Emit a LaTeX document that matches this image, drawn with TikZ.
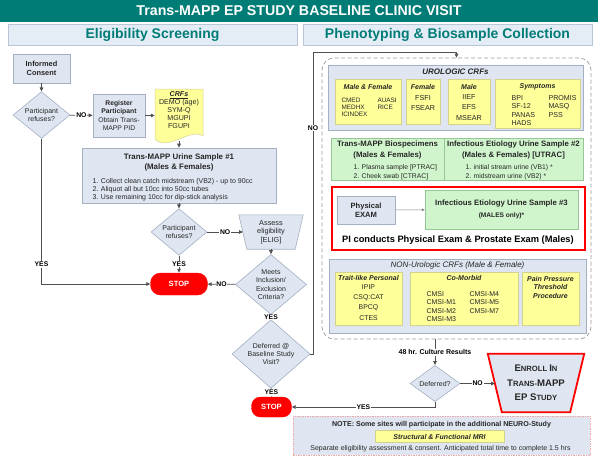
\documentclass[tikz,border=0pt]{standalone}
\usepackage{fontspec}
\setmainfont{Liberation Sans}
\usetikzlibrary{shapes.geometric,arrows.meta,calc,backgrounds}
\definecolor{teal0}{HTML}{007C76}
\definecolor{hdrfill}{HTML}{E4ECF6}
\definecolor{hdrdraw}{HTML}{B8C6D8}
\definecolor{lbfill}{HTML}{DFE6F1}
\definecolor{lbdraw}{HTML}{A3AFC2}
\definecolor{yel}{HTML}{FFFF99}
\definecolor{yeldraw}{HTML}{D2D28E}
\definecolor{grn}{HTML}{D0F5CC}
\definecolor{grndraw}{HTML}{98C596}
\definecolor{txt}{HTML}{262626}
\definecolor{ln}{HTML}{505050}
\definecolor{stopred}{HTML}{FF0000}
\definecolor{notedraw}{HTML}{F0A8A8}
\newcommand\fsz[2]{\fontsize{#1}{#2}\selectfont}
\begin{document}
\begin{tikzpicture}[x=1pt,y=-1pt,
  every node/.style={text=txt},
  bx/.style n args={2}{minimum width=#1pt,minimum height=#2pt,inner sep=0pt},
  hdr/.style={draw=hdrdraw,fill=hdrfill,line width=0.6pt,text=teal0,font=\fsz{14}{16}\bfseries},
  lbox/.style={draw=lbdraw,fill=lbfill,line width=0.6pt,align=center},
  ybox/.style={draw=yeldraw,fill=yel,line width=0.5pt},
  gbox/.style={draw=grndraw,fill=grn,line width=0.5pt},
  dia/.style={diamond,draw=lbdraw,fill=lbfill,line width=0.6pt,inner sep=0pt,align=center,font=\fsz{7}{8.4}},
  stopbox/.style={fill=stopred,text=white,font=\fsz{7.6}{8}\bfseries,inner sep=0pt},
  arr/.style={draw=ln,line width=0.8pt,-{Triangle[length=4pt,width=3.6pt]}},
  lab/.style={fill=white,inner sep=0.8pt,font=\fsz{6.8}{7}\bfseries,text=black},
  sm/.style={font=\fsz{6.3}{7.6},align=left},
  ttl/.style={font=\fsz{7}{8}\bfseries\itshape}
]
\useasboundingbox (0,0) rectangle (600,456);

% title bar
\node[fill=teal0,bx={598}{22},text=white,font=\fsz{14.2}{16}\bfseries] (title) at (299,11) {Trans-MAPP EP STUDY BASELINE CLINIC VISIT};
\node[hdr,bx={289}{21}] (h1) at (152.5,34.5) {Eligibility Screening};
\node[hdr,bx={289}{21}] (h2) at (447.5,34.5) {Phenotyping \& Biosample Collection};

% ---------- left column ----------
\node[lbox,bx={57}{29},font=\fsz{7.4}{9.2}\bfseries] (consent) at (41.5,68.5) {Informed\\Consent};
\node[dia,bx={57}{42}] (d1) at (41.5,115) {Participant\\refuses?};
\node[lbox,bx={52}{43},font=\fsz{6.8}{8}] (reg) at (119,115.5) {\textbf{Register}\\\textbf{Participant}\\[1.5pt]Obtain Trans-\\MAPP PID};
\node[bx={48}{50}] (crf) at (179,113) {};
\draw[ybox] (155,89) -- (203,89) -- (203,136) .. controls (191,127) and (168,152) .. (155,139) -- cycle;
\node[font=\fsz{7.1}{8},align=center] (crft) at (179,110.5) {\textbf{\textit{\underline{CRFs}}}\\DEMO (age)\\SYM-Q\\MGUPI\\FGUPI};
\coordinate (crfb) at (179,141);

\node[lbox,bx={194}{55}] (urine) at (179,175.5) {};
\node[font=\fsz{7.9}{10.8}\bfseries,align=center] (urinet) at (179,162.5) {Trans-MAPP Urine Sample \#1\\(Males \& Females)};
\node[sm,anchor=north west,font=\fsz{7}{8.2}] (urinei) at (89,174.5) {1. Collect clean catch midstream (VB2) - up to 90cc\\2. Aliquot all but 10cc into 50cc tubes\\3. Use remaining 10cc for dip-stick analysis};

\node[dia,bx={56}{43}] (d2) at (179,232) {Participant\\refuses?};
\node[bx={64}{34},align=center,font=\fsz{7.3}{8.4}] (assess) at (271,232) {Assess\\eligibility\\{[ELIG]}};
\begin{scope}[on background layer]
\draw[lbox] (assess.north west) -- (assess.north east) -- ([xshift=-8pt]assess.south east) -- ([xshift=8pt]assess.south west) -- cycle;
\end{scope}
\coordinate (assessw) at (243,232);
\node[dia,bx={71}{51}] (d3) at (271,284.5) {Meets\\Inclusion/\\Exclusion\\Criteria?};
\node[stopbox,bx={57}{22},rounded corners=10pt,draw=stopred] (stop1) at (179,284) {STOP};
\node[dia,bx={78}{44}] (d4) at (271,354) {Deferred @\\Baseline Study\\Visit?};
\node[stopbox,bx={40}{20},rounded corners=9pt,draw=stopred] (stop2) at (271.5,407) {STOP};

% left connectors
\draw[arr] (consent) -- (d1);
\draw[arr] (d1) -- node[lab]{NO} (reg);
\draw[arr] (reg) -- (reg.east -| crf.west);
\draw[arr] (crfb) -- (urine.north -| crfb);
\draw[arr] (urine.south -| d2.north) -- (d2);
\draw[arr] (d1.south) -- node[lab,pos=0.865]{YES} (d1.south |- stop1.west) -- (stop1.west);
\draw[arr] (d2) -- node[lab]{NO} (assessw);
\draw[arr] (d2) -- node[lab]{YES} (stop1);
\draw[arr] (assess.south) -- (d3.north);
\draw[arr] (d3) -- node[lab]{NO} (stop1);
\draw[arr] (d3) -- node[lab]{YES} (d4);
\draw[arr] (d4) -- node[lab]{YES} (stop2);

% ---------- right column ----------
\node[draw=gray!80,dash pattern=on 4pt off 2.5pt,line width=0.7pt,rounded corners=12pt,bx={269}{281}] (pheno) at (456.5,198.5) {};
\coordinate (n1) at (313,354);
\coordinate (n2) at (313,52);
\coordinate (n3) at (456.5,52);
\draw[arr] (d4.east) -- (n1) -- node[lab,pos=0.748]{NO} (n2) -- (n3) -- (pheno.north);

% urologic
\node[lbox,bx={255}{65}] (uro) at (455.5,97.5) {};
\node[font=\fsz{8}{9}\bfseries\itshape] (urot) at (455.5,72) {UROLOGIC CRFs};
\node[ybox,bx={66}{45}] (mf) at (368,101.5) {};
\node[ttl] at (368,87) {Male \& Female};
\node[sm,anchor=north west,font=\fsz{6.4}{7.2}] at (338,94.5) {CMED\\MEDHX\\ICINDEX};
\node[sm,anchor=north west,font=\fsz{6.4}{7.2}] at (374,94.5) {AUASI\\RICE};
\node[ybox,bx={34}{45}] (fem) at (423,101.5) {};
\node[ttl] at (423,87) {Female};
\node[font=\fsz{7.2}{10},align=center] at (423,103) {FSFI\\FSEAR};
\node[ybox,bx={42}{45}] (male) at (469,101.5) {};
\node[ttl] at (469,87) {Male};
\node[font=\fsz{7.2}{10.5},align=center] at (469,107.5) {IIEF\\EFS\\MSEAR};
\node[ybox,bx={85}{49}] (sym) at (537.5,103.5) {};
\node[ttl] at (537.5,87) {Symptoms};
\node[sm,anchor=north west,font=\fsz{7.1}{8.3}] at (508,92) {BPI\\SF-12\\PANAS\\HADS};
\node[sm,anchor=north west,font=\fsz{7.1}{8.3}] at (545,92) {PROMIS\\MASQ\\PSS};

% green row
\node[gbox,bx={113}{42}] (bio) at (387.5,159) {};
\node[gbox,bx={139}{42}] (ie2) at (513.5,159) {};
\node[font=\fsz{7.8}{11}\bfseries,align=center] at (387.5,149.5) {Trans-MAPP Biospecimens\\(Males \& Females)};
\node[sm,anchor=north west,font=\fsz{6.8}{9}] at (350,161) {1. Plasma sample [PTRAC]\\2. Cheek swab [CTRAC]};
\node[font=\fsz{7.8}{11}\bfseries,align=center] at (513.5,149.5) {Infectious Etiology Urine Sample \#2\\(Males \& Females) [UTRAC]};
\node[sm,anchor=north west,font=\fsz{6.8}{9}] at (462,161) {1. initial stream urine (VB1) *\\2. midstream urine (VB2) *};

% red box
\node[draw=stopred,fill=white,line width=2pt,bx={253}{63}] (exam) at (458,218) {};
\node[lbox,bx={58}{28},font=\fsz{7.6}{9.4}\bfseries] (phys) at (366,210) {Physical\\EXAM};
\node[gbox,bx={153}{39},align=center] (ie3) at (501.5,209.5) {{\fsz{7.8}{9}\bfseries Infectious Etiology Urine Sample \#3}\\{\fsz{6.6}{9.5}\bfseries (MALES only)*}};
\draw[draw=gray,line width=0.5pt,-{Triangle[length=3pt,width=2.6pt]}] (phys) -- (ie3);
\node[font=\fsz{9.3}{10}\bfseries,text=black] (pi) at (458,240) {PI conducts Physical Exam \& Prostate Exam (Males)};

% non-urologic
\node[lbox,bx={257}{74}] (nonuro) at (457.5,296) {};
\node[font=\fsz{8}{9}\itshape] at (457.5,265) {NON-Urologic CRFs (Male \& Female)};
\node[ybox,bx={67}{53}] (trait) at (368.5,298.5) {};
\node[ttl] at (368.5,278) {Trait-like Personal};
\node[font=\fsz{6.9}{10.3},align=center] at (368.5,302.5) {IPIP\\CSQ:CAT\\BPCQ\\CTES};
\node[ybox,bx={108}{53}] (como) at (464,298.5) {};
\node[ttl] at (464,278) {Co-Morbid};
\node[sm,anchor=north west,font=\fsz{7}{8.3}] at (423,288) {CMSI\\CMSI-M1\\CMSI-M2\\CMSI-M3};
\node[sm,anchor=north west,font=\fsz{7}{8.3}] at (466,288) {CMSI-M4\\CMSI-M5\\CMSI-M7};
\node[ybox,bx={57}{53}] (pain) at (550.5,298.5) {};
\node[ttl,align=center,font=\fsz{7}{8.5}\bfseries\itshape] at (550.5,287) {Pain Pressure\\Threshold\\Procedure};

% deferred / enroll
\node[dia,bx={50}{33}] (d5) at (435,383.5) {Deferred?};
\node[bx={96}{58},font=\fsz{7.6}{14.5}\bfseries,align=center,text=txt] (enroll) at (536,383) {{\fsz{9.6}{14.5}E}NROLL {\fsz{9.6}{14.5}I}N\\{\fsz{9.6}{14.5}T}RANS-{\fsz{9.6}{14.5}MAPP}\\{\fsz{9.6}{14.5}EP S}TUDY};
\begin{scope}[on background layer]
\draw[fill=lbfill,draw=stopred,line width=1.8pt] (enroll.north west) -- (enroll.north east) -- ([xshift=-14pt]enroll.south east) -- ([xshift=14pt]enroll.south west) -- cycle;
\end{scope}
\coordinate (enrollw) at (495,383.5);
\draw[arr] (pheno.south -| d5.north) -- node[lab,font=\fsz{7}{7.5}\bfseries]{48 hr. Culture Results} (d5.north);
\draw[arr] (d5) -- node[lab]{NO} (enrollw);
\coordinate (y1) at (435,407);
\draw[arr] (d5.south) -- (y1) -- node[lab,pos=0.5]{YES} (stop2.east);

% note
\node[draw=notedraw,dash pattern=on 1.5pt off 1pt,fill=lbfill,line width=0.6pt,bx={297}{39}] (note) at (441.5,435.5) {};
\node[font=\fsz{7.1}{8}\bfseries] at (441.5,425) {NOTE: Some sites will participate in the additional NEURO-Study};
\node[ybox,bx={129}{12},font=\fsz{7}{8}\bfseries\itshape] (mri) at (439.5,436.5) {Structural \& Functional MRI};
\node[font=\fsz{7}{8}] at (440.5,449) {Separate eligibility assessment \& consent. Anticipated total time to complete 1.5 hrs};
\end{tikzpicture}
\end{document}
